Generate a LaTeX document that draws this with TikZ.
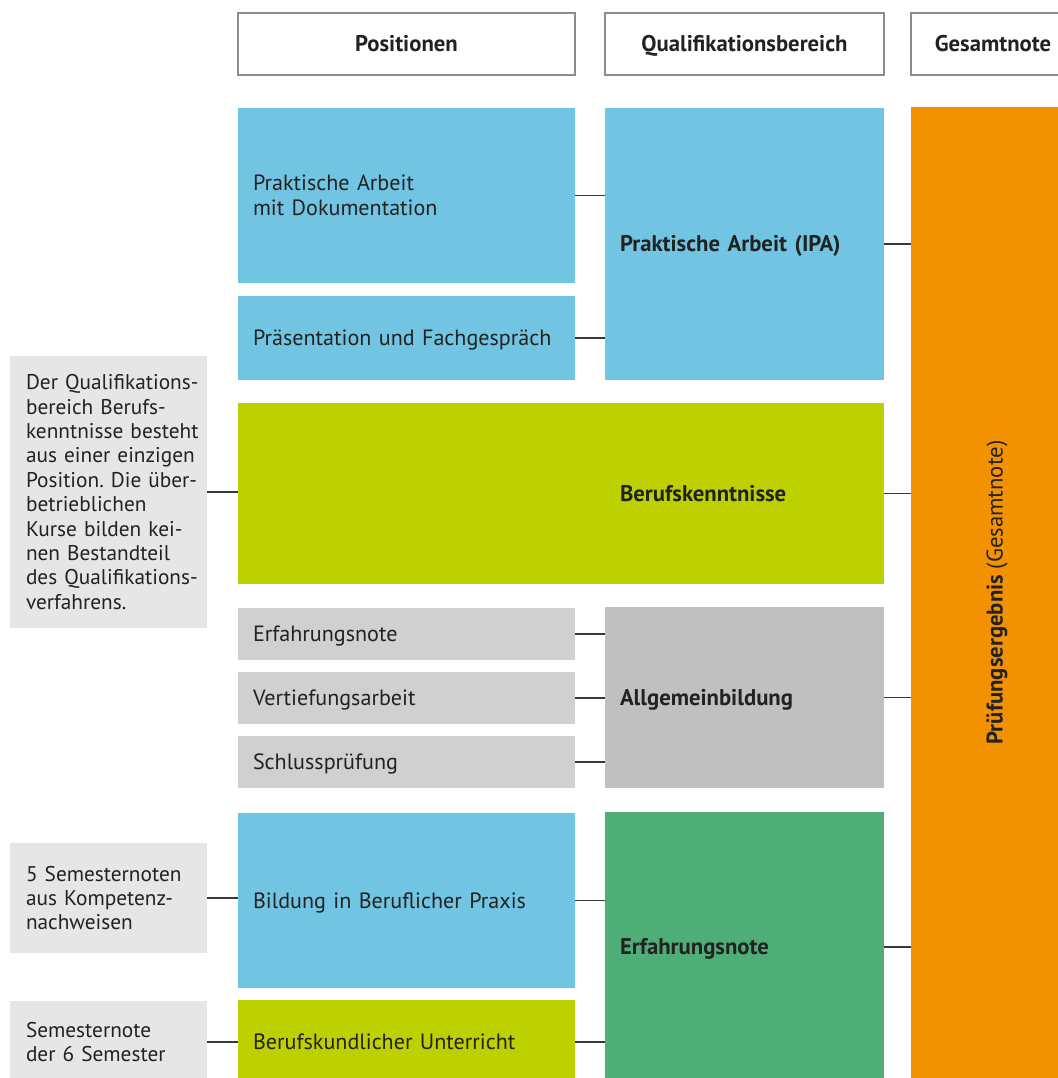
\documentclass[tikz,border=0pt]{standalone}
\usepackage{fontspec}
\setmainfont{PT Sans}
\usetikzlibrary{positioning}

\definecolor{ipablue}{HTML}{72C5E2}
\definecolor{lime}{HTML}{BDD000}
\definecolor{orangebar}{HTML}{F39200}
\definecolor{lightgrey}{HTML}{D0D0D0}
\definecolor{midgrey}{HTML}{C0C0C0}
\definecolor{notegrey}{HTML}{E6E6E6}
\definecolor{erfgreen}{HTML}{4FAE77}
\definecolor{ink}{HTML}{222222}

\begin{document}
\begin{tikzpicture}[x=1pt, y=-1pt,
  every node/.style={font=\fontsize{22.1}{25}\selectfont, text=ink, inner sep=0pt, outer sep=0pt},
  strong/.style={font=\bfseries\fontsize{22.7}{27}\selectfont},
  oneline/.style={text height=15pt, text depth=0pt},
  head/.style={draw=black!45, line width=1.3pt, minimum height=62pt, anchor=north west, strong,
               text height=15pt, text depth=0pt},
  posbox/.style={text width=307pt, inner xsep=15pt, align=left, anchor=north west},
  qualbox/.style={text width=249pt, inner xsep=15pt, align=left, anchor=north west, strong, oneline},
  notebox/.style={fill=notegrey, text width=165pt, inner xsep=16pt, align=left, anchor=north west,
                  font={\fontsize{21.3}{24.4}\selectfont\hyphenpenalty=10000\exhyphenpenalty=10000\relax}},
  link/.style={draw=ink!90, line width=1.6pt}]
\useasboundingbox (0,0) rectangle (1057,1078);

% column heads
\node[head, minimum width=337pt] (hpos) at (238,13) {Positionen};
\node[head, minimum width=279pt] (hqual) at (605,13) {Qualifikationsbereich};
\node[head, minimum width=164pt] (hges) at (911,13) {Gesamtnote};

% Praktische Arbeit
\node[posbox, fill=ipablue, minimum height=175pt] (dok) at (238,108) {Praktische Arbeit\\mit Dokumentation};
\node[posbox, oneline, fill=ipablue, minimum height=84pt, below=13pt of dok] (praes) {Präsentation und Fachgespräch};
\node[qualbox, fill=ipablue, minimum height=272pt] (ipa) at (605,108) {Praktische Arbeit (IPA)};

% Berufskenntnisse
\node[fill=lime, minimum width=646pt, minimum height=181pt, anchor=north west] (kenntnisse) at (238,403) {};
\node[strong, oneline, anchor=west, xshift=15pt] (kenntnistext) at (kenntnisse.center -| ipa.west) {Berufskenntnisse};

% Allgemeinbildung
\node[posbox, oneline, fill=lightgrey, minimum height=52pt] (erfnote) at (238,608) {Erfahrungsnote};
\node[posbox, oneline, fill=lightgrey, minimum height=52pt, below=12pt of erfnote] (vertiefung) {Vertiefungsarbeit};
\node[posbox, oneline, fill=lightgrey, minimum height=52pt, below=12pt of vertiefung] (schluss) {Schlussprüfung};
\node[qualbox, fill=midgrey, minimum height=181pt] (abu) at (605,607) {Allgemeinbildung};

% Erfahrungsnote
\node[posbox, oneline, fill=ipablue, minimum height=175pt] (bip) at (238,813) {Bildung in Beruflicher Praxis};
\node[posbox, oneline, fill=lime, minimum height=84pt, below=12pt of bip] (buk) {Berufskundlicher Unterricht};
\node[qualbox, fill=erfgreen, minimum height=270pt] (erf) at (605,812) {Erfahrungsnote};

% Gesamtnote
\node[fill=orangebar, minimum width=164pt, minimum height=971pt, anchor=north west] (total) at (911,107) {};
\node[strong, xshift=4pt, rotate=90] (totaltext) at (total.center) {Prüfungsergebnis \mdseries(Gesamtnote)};

% notes on the left (~ keeps each printed line together)
\node[notebox, minimum height=272pt] (kenntnisnote) at (10,356)
  {Der~Qualifikations-\\bereich~Berufs-\\kenntnisse~besteht\\aus~einer~einzigen\\Position.~Die~über-\\betrieblichen\\Kurse~bilden~kei-\\nen~Bestandteil\\des~Qualifikations-\\verfahrens.};
\node[notebox, minimum height=110pt] (bipnote) at (10,843) {5~Semesternoten\\aus~Kompetenz-\\nachweisen};
\node[notebox, minimum height=82pt] (buknote) at (10,1001) {Semesternote\\der~6~Semester};

% connectors
\foreach \a in {dok, praes}
  \draw[link] (\a.east) -- (\a.east -| ipa.west);
\foreach \a in {erfnote, vertiefung, schluss}
  \draw[link] (\a.east) -- (\a.east -| abu.west);
\foreach \a in {bip, buk}
  \draw[link] (\a.east) -- (\a.east -| erf.west);
\foreach \a in {ipa, kenntnisse, abu, erf}
  \draw[link] (\a.east) -- (\a.east -| total.west);
\draw[link] (kenntnisnote.east) -- (kenntnisnote.east -| kenntnisse.west);
\draw[link] (bipnote.east) -- (bipnote.east -| bip.west);
\draw[link] (buknote.east) -- (buknote.east -| buk.west);
\end{tikzpicture}
\end{document}
